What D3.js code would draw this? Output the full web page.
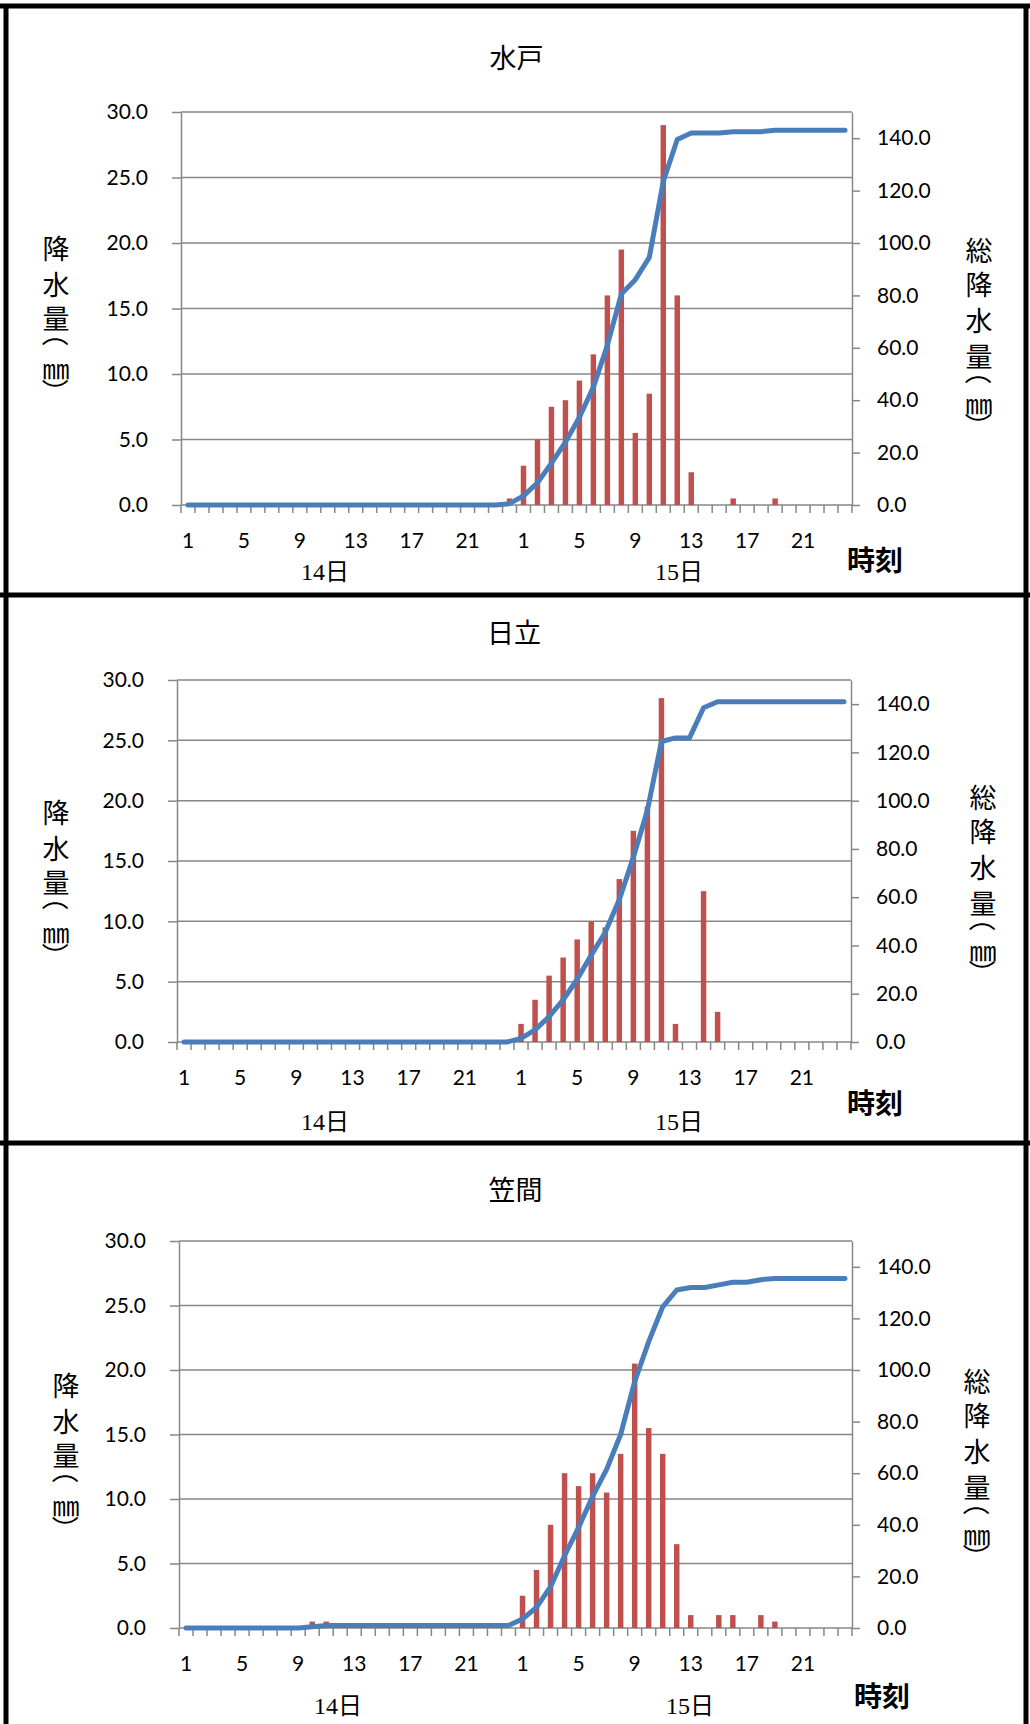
<!DOCTYPE html>
<html>
<head>
<meta charset="utf-8">
<script src="https://cdn.jsdelivr.net/npm/d3@7"></script>
<style>
body { margin: 0; background: #fff; }
text { font-family: Lato, "Noto Sans CJK JP", sans-serif; fill: #000; }
.jp { font-family: "Noto Sans CJK JP", sans-serif; }
.day { font-family: "Liberation Serif", "Noto Sans CJK JP", serif; }
</style>
</head>
<body>
<svg id="chart"></svg>
<script>
// hours on the 14th then the 15th
var hourLabels = [1,2,3,4,5,6,7,8,9,10,11,12,13,14,15,16,17,18,19,20,21,22,23,24,
                  1,2,3,4,5,6,7,8,9,10,11,12,13,14,15,16,17,18,19,20,21,22,23,24];
var shownHours = [1,5,9,13,17,21];
var dayLabels = ["14日", "15日"];
var stations = ["水戸", "日立", "笠間"];
var leftTicks = [0, 5, 10, 15, 20, 25, 30];
var rightTicks = [0, 20, 40, 60, 80, 100, 120, 140];

// hourly rain (mm), 48 values
var mitoRain = [0,0,0,0,0,0,0,0,0,0,0,0,0,0,0,0,0,0,0,0,0,0,0,0.5,
                3,5,7.5,8,9.5,11.5,16,19.5,5.5,8.5,29,16,2.5,0,0,0.5,0,0,0.5,0,0,0,0,0];
var mitoTotal = [0,0,0,0,0,0,0,0,0,0,0,0,0,0,0,0,0,0,0,0,0,0,0,0.5,
                 3.5,8.5,16,24,33.5,45,61,80.5,86,94.5,123.5,139.5,142,142,142,142.5,142.5,142.5,143,143,143,143,143,143];

var hitachiRain = [0,0,0,0,0,0,0,0,0,0,0,0,0,0,0,0,0,0,0,0,0,0,0,0,
                   1.5,3.5,5.5,7,8.5,10,9.5,13.5,17.5,19.5,28.5,1.5,0,12.5,2.5,0,0,0,0,0,0,0,0,0];
var hitachiTotal = [0,0,0,0,0,0,0,0,0,0,0,0,0,0,0,0,0,0,0,0,0,0,0,0,
                    1.5,5,10.5,17.5,26,36,45.5,59,76.5,96,124.5,126,126,138.5,141,141,141,141,141,141,141,141,141,141];

var kasamaRain = [0,0,0,0,0,0,0,0,0,0.5,0.5,0,0,0,0,0,0,0,0,0,0,0,0,0,
                  2.5,4.5,8,12,11,12,10.5,13.5,20.5,15.5,13.5,6.5,1,0,1,1,0,1,0.5,0,0,0,0,0];
var kasamaTotal = [0,0,0,0,0,0,0,0,0,0.5,1,1,1,1,1,1,1,1,1,1,1,1,1,1,
                   3.5,8,16,28,39,51,61.5,75,95.5,111,124.5,131,132,132,133,134,134,135,135.5,135.5,135.5,135.5,135.5,135.5];

var W = 1030, H = 1724;
var svg = d3.select("#chart").attr("width", W).attr("height", H);

var panels = [
  {title: stations[0], rain: mitoRain, total: mitoTotal,
   left: 181, right: 852, top: 112, bottom: 505, titleY: 56,
   dayY: 572, dayX: [325, 679], timeX: 875, timeY: 559,
   ltX: 56, ltY: 247, rtX: 979, rtY: 249},
  {title: stations[1], rain: hitachiRain, total: hitachiTotal,
   left: 177, right: 851, top: 680, bottom: 1042, titleY: 631,
   dayY: 1122, dayX: [325, 679], timeX: 875, timeY: 1102,
   ltX: 56, ltY: 811, rtX: 983, rtY: 796},
  {title: stations[2], rain: kasamaRain, total: kasamaTotal,
   left: 179, right: 852, top: 1241, bottom: 1628, titleY: 1188,
   dayY: 1706, dayX: [338, 690], timeX: 882, timeY: 1695,
   ltX: 66, ltY: 1384, rtX: 977, rtY: 1380}
];

var grey = "#878787";
// vertical axis titles, one glyph per row; parentheses are turned 90 degrees
var leftTitle = ["降", "水", "量", "（", "㎜", "）"];
var leftOff = [0, 36, 70, 86, 120, 145];
var rightTitle = ["総", "降", "水", "量", "（", "㎜", "）"];
var rightOff = [0, 34, 70, 106, 122, 153, 177];

function vertTitle(g, chars, offs, x0, y0) {
  g.selectAll(null).data(chars).enter().append("text").attr("class", "jp")
    .attr("transform", function(d, i) {
      var t = "translate(" + x0 + "," + (y0 + offs[i]) + ")";
      return (d === "（" || d === "）") ? t + " rotate(90)" : t;
    })
    .attr("dominant-baseline", "central").attr("text-anchor", "middle")
    .attr("font-size", 27).text(function(d){ return d; });
}

panels.forEach(function(p) {
  var g = svg.append("g");
  var idx = d3.range(hourLabels.length);
  var x = d3.scaleBand().domain(idx).range([p.left, p.right]);
  var yL = d3.scaleLinear().domain([0, 30]).range([p.bottom, p.top]);
  var yR = d3.scaleLinear().domain([0, 150]).range([p.bottom, p.top]);

  // gridlines
  g.selectAll(".grid").data(leftTicks).enter().append("line")
    .attr("x1", p.left).attr("x2", p.right)
    .attr("y1", function(d){ return yL(d); })
    .attr("y2", function(d){ return yL(d); })
    .attr("stroke", grey).attr("stroke-width", 1.5);

  // left axis
  var axL = g.append("g").attr("transform", "translate(" + p.left + ",0)")
    .call(d3.axisLeft(yL).tickValues(leftTicks).tickFormat(d3.format(".1f"))
      .tickSize(9).tickSizeOuter(0).tickPadding(24));
  // right axis
  var axR = g.append("g").attr("transform", "translate(" + p.right + ",0)")
    .call(d3.axisRight(yR).tickValues(rightTicks).tickFormat(d3.format(".1f"))
      .tickSize(8).tickSizeOuter(0).tickPadding(17));
  [axL, axR].forEach(function(a) {
    a.selectAll("path,line").attr("stroke", grey).attr("stroke-width", 1.5);
    a.selectAll("text").attr("font-size", 21).attr("font-family", "Lato")
      .attr("fill", "#000");
  });

  // category tick marks on every hour boundary
  g.selectAll(".ct").data(d3.range(hourLabels.length + 1)).enter().append("line")
    .attr("x1", function(i){ return p.left + i * x.bandwidth(); })
    .attr("x2", function(i){ return p.left + i * x.bandwidth(); })
    .attr("y1", p.bottom).attr("y2", p.bottom + 8)
    .attr("stroke", grey).attr("stroke-width", 1.5);

  // hour labels
  g.selectAll(".hl").data(idx.filter(function(i){ return shownHours.indexOf(hourLabels[i]) >= 0; }))
    .enter().append("text")
    .attr("x", function(i){ return x(i) + x.bandwidth() / 2; })
    .attr("y", p.bottom + 43)
    .attr("text-anchor", "middle").attr("font-size", 21)
    .text(function(i){ return hourLabels[i]; });

  // bars
  var bw = x.bandwidth() * 0.39;
  g.selectAll(".bar").data(p.rain).enter().append("rect")
    .attr("x", function(d, i){ return x(i) + (x.bandwidth() - bw) / 2; })
    .attr("y", function(d){ return yL(d); })
    .attr("width", bw)
    .attr("height", function(d){ return p.bottom - yL(d); })
    .attr("fill", "#C0504D");

  // cumulative line
  var line = d3.line()
    .x(function(d, i){ return x(i) + x.bandwidth() / 2; })
    .y(function(d){ return yR(d); });
  g.append("path").datum(p.total)
    .attr("d", line).attr("fill", "none")
    .attr("stroke", "#4A7EBB").attr("stroke-width", 5)
    .attr("stroke-linejoin", "round").attr("stroke-linecap", "round");

  // title
  g.append("text").attr("class", "jp")
    .attr("x", (p.left + p.right) / 2).attr("y", p.titleY)
    .attr("dominant-baseline", "central").attr("text-anchor", "middle")
    .attr("font-size", 27).text(p.title);

  // day labels
  g.selectAll(".day").data(dayLabels).enter().append("text")
    .attr("class", "day")
    .attr("x", function(d, i){ return p.dayX[i]; }).attr("y", p.dayY)
    .attr("dominant-baseline", "central").attr("text-anchor", "middle")
    .attr("font-size", 24).text(function(d){ return d; });

  g.append("text").attr("class", "jp")
    .attr("x", p.timeX).attr("y", p.timeY)
    .attr("dominant-baseline", "central").attr("text-anchor", "middle")
    .attr("font-size", 28).attr("font-weight", "bold").text("時刻");

  vertTitle(g, leftTitle, leftOff, p.ltX, p.ltY);
  vertTitle(g, rightTitle, rightOff, p.rtX, p.rtY);
});

// black frames around the three charts
var frame = svg.append("g").attr("stroke", "#000").attr("stroke-width", 5);
[6, 595, 1143].forEach(function(y){
  frame.append("line").attr("x1", 0).attr("x2", W).attr("y1", y).attr("y2", y);
});
[6, 1026].forEach(function(xx){
  frame.append("line").attr("x1", xx).attr("x2", xx).attr("y1", 4).attr("y2", H);
});
</script>
</body>
</html>
